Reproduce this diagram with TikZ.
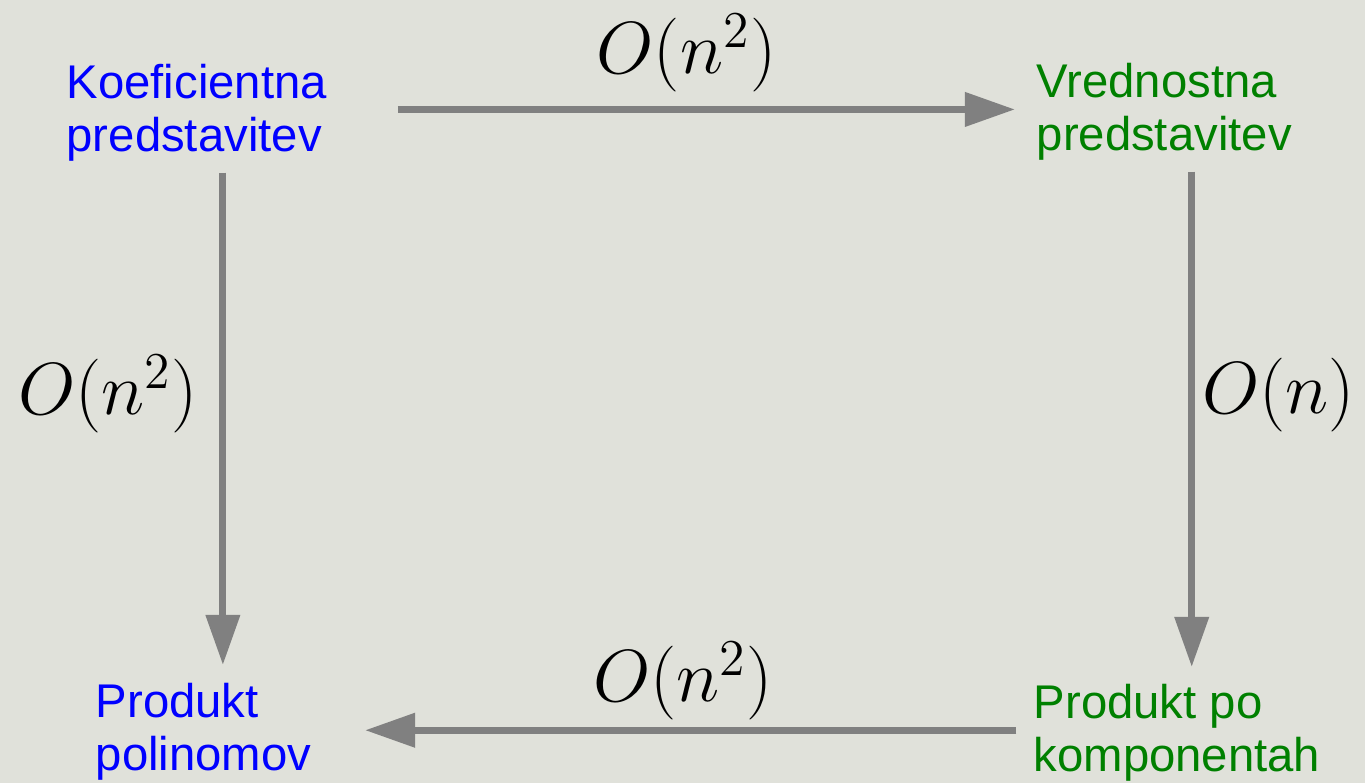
\documentclass[tikz,border=0pt]{standalone}
\usepackage{fix-cm}
\usepackage{fontspec}
\setmainfont{Liberation Sans}
\usetikzlibrary{arrows.meta}

\definecolor{slidebg}{RGB}{224,225,218}
\definecolor{koefblue}{RGB}{0,0,255}
\definecolor{vrednostgreen}{RGB}{0,128,0}
\definecolor{arrowgray}{RGB}{128,128,128}

\begin{document}
\begin{tikzpicture}[x=.01cm,y=-.01cm,
    stagetext/.style={anchor=base west,align=left,inner sep=0pt,
      font=\fontsize{13.45pt}{15.08pt}\selectfont},
    costlabel/.style={anchor=base,inner sep=0pt,
      font=\fontsize{21pt}{25pt}\selectfont},
    costarrow/.style={draw=arrowgray,line width=.07cm,
      -{Triangle[length=.5cm,width=.33cm]}}]
    \fill[slidebg] (0,0) rectangle (1365,783);
    \useasboundingbox (0,0) rectangle (1365,783);

    % base = baseline of the second line
    \node[stagetext,text=koefblue] (koef) at (66,152)
      {Koeficientna\\predstavitev};
    \node[stagetext,text=vrednostgreen] (vred) at (1036,151)
      {Vrednostna\\predstavitev};
    \node[stagetext,text=koefblue] (prod) at (95,771)
      {Produkt\\polinomov};
    \node[stagetext,text=vrednostgreen] (komp) at (1033,772)
      {Produkt po\\komponentah};

    \node[costlabel] (costtop) at (686.5,74) {$O(n^2)$};
    \node[costlabel] (costleft) at (108,415) {$O(n^2)$};
    \node[costlabel] (costright) at (1278.5,414) {$O(n)$};
    \node[costlabel] (costbottom) at (683,702) {$O(n^2)$};

    \draw[costarrow] ([xshift=.70cm,yshift=.038cm]koef.east)
      -- ([xshift=-.21cm,yshift=.038cm]koef.east -| vred.west);
    \draw[costarrow] ([xshift=.26cm,yshift=-.1cm]koef.south)
      -- ([xshift=.26cm,yshift=.18cm]koef.south |- prod.north);
    \draw[costarrow] ([xshift=.275cm,yshift=-.1cm]vred.south)
      -- ([xshift=.275cm,yshift=.17cm]vred.south |- komp.north);
    \draw[costarrow] ([xshift=-.165cm,yshift=.03cm]komp.west)
      -- ([xshift=.53cm,yshift=.03cm]komp.west -| prod.east);
  \end{tikzpicture}
\end{document}
